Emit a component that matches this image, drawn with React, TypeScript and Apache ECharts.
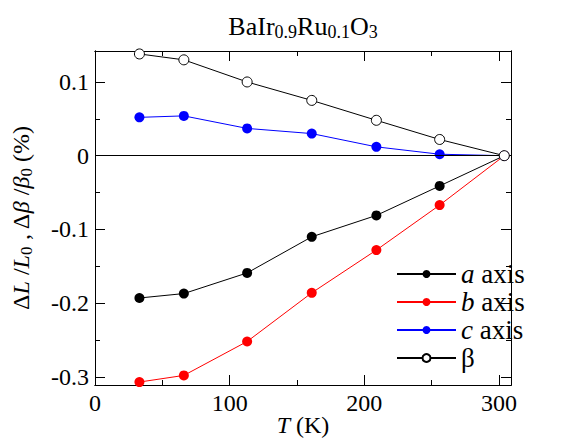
import React, { useEffect, useRef } from "react";
import * as echarts from "echarts";

const temperatures = [33, 66, 113, 161, 209, 256, 304];
const aAxis = [-0.193, -0.187, -0.159, -0.11, -0.081, -0.041, 0];
const bAxis = [-0.307, -0.298, -0.252, -0.186, -0.128, -0.067, 0];
const cAxis = [0.052, 0.054, 0.037, 0.03, 0.012, 0.002, 0];
const betaValues = [0.138, 0.13, 0.1, 0.075, 0.048, 0.022, 0];

const xMajorTicks = [0, 100, 200, 300];
const xMinorTicks = [0, 50, 100, 150, 200, 250, 300];
const yMajorTicks = [-0.3, -0.2, -0.1, 0, 0.1];
const yMinorTicks = [-0.3, -0.25, -0.2, -0.15, -0.1, -0.05, 0, 0.05, 0.1];

const seriesNames = ["a axis", "b axis", "c axis", "β"];
const legendLabels: Record<string, string> = {
  "a axis": "{i|a} axis",
  "b axis": "{i|b} axis",
  "c axis": "{i|c} axis",
  "β": "β",
};

const FONT = "Liberation Serif";

export default function App() {
  const ref = useRef<HTMLDivElement>(null);
  useEffect(() => {
    if (!ref.current) return;
    const chart = echarts.init(ref.current, undefined, { renderer: "svg" });
    const xMin = 0, xMax = 309, yMin = -0.311, yMax = 0.142;
    const baseX = (extra: any) => ({
      type: "value",
      min: xMin,
      max: xMax,
      splitLine: { show: false },
      axisLine: { show: true, onZero: false, lineStyle: { color: "#000", width: 1 } },
      ...extra,
    });
    const baseY = (extra: any) => ({
      type: "value",
      min: yMin,
      max: yMax,
      splitLine: { show: false },
      axisLine: { show: true, onZero: false, lineStyle: { color: "#000", width: 1 } },
      ...extra,
    });
    const tick = (vals: number[], len: number) => ({
      show: true,
      inside: true,
      length: len,
      customValues: vals,
      lineStyle: { color: "#000", width: 1 },
    });
    const mk = (name: string, data: number[], color: string, hollow = false) => ({
      name,
      type: "line",
      data: temperatures.map((t, i) => [t, data[i]]),
      symbol: "circle",
      symbolSize: 10,
      lineStyle: { color, width: 1 },
      itemStyle: hollow
        ? { color: "#fff", borderColor: "#000", borderWidth: 1 }
        : { color, borderColor: color, borderWidth: 0 },
      emphasis: { disabled: true },
      z: hollow ? 5 : 3,
    });
    const seriesA: any = mk(seriesNames[0], aAxis, "#000");
    seriesA.markLine = {
      silent: true,
      symbol: ["none", "none"],
      label: { show: false },
      lineStyle: { color: "#000", width: 1, type: "solid" },
      data: [{ yAxis: 0 }],
    };
    chart.setOption({
      animation: false,
      textStyle: { fontFamily: FONT },
      title: {
        text: "BaIr{s|0.9}Ru{s|0.1}O{s|3}",
        left: 303,
        top: 11,
        textAlign: "center",
        padding: 0,
        textStyle: {
          fontFamily: FONT,
          fontSize: 26,
          fontWeight: "normal",
          color: "#000",
          rich: {
            s: { fontFamily: FONT, fontSize: 18, color: "#000", padding: [12, 0, 0, 0] },
          },
        },
      },
      grid: {
        left: 95,
        top: 51,
        width: 416,
        height: 334,
        containLabel: false,
        outerBoundsMode: "none",
      },
      legend: {
        orient: "vertical",
        left: 396,
        top: 260,
        padding: 0,
        itemWidth: 59,
        itemHeight: 10,
        itemGap: 0,
        selectedMode: false,
        data: seriesNames,
        formatter: (n: string) => legendLabels[n],
        textStyle: {
          fontFamily: FONT,
          fontSize: 27,
          lineHeight: 28,
          color: "#000",
          rich: {
            i: { fontFamily: FONT, fontSize: 27, lineHeight: 28, fontStyle: "italic", color: "#000" },
          },
        },
      },
      xAxis: [
        baseX({
          position: "bottom",
          axisTick: tick(xMajorTicks, 10),
          axisLabel: {
            show: true,
            customValues: xMajorTicks,
            margin: 6,
            color: "#000",
            fontFamily: FONT,
            fontSize: 24,
          },
          name: "{i|T} (K)",
          nameLocation: "middle",
          nameGap: 28,
          nameMoveOverlap: false,
          nameTextStyle: {
            fontFamily: FONT,
            fontSize: 24,
            color: "#000",
            rich: { i: { fontFamily: FONT, fontSize: 24, fontStyle: "italic", color: "#000" } },
          },
        }),
        baseX({ position: "bottom", axisTick: tick(xMinorTicks, 5), axisLabel: { show: false } }),
        baseX({ position: "top", axisTick: tick(xMajorTicks, 10), axisLabel: { show: false } }),
        baseX({ position: "top", axisTick: tick(xMinorTicks, 5), axisLabel: { show: false } }),
      ],
      yAxis: [
        baseY({
          position: "left",
          axisTick: tick(yMajorTicks, 10),
          axisLabel: {
            show: true,
            customValues: yMajorTicks,
            margin: 6,
            color: "#000",
            fontFamily: FONT,
            fontSize: 24,
            formatter: (v: number) => (Math.abs(v) < 1e-9 ? "0" : v.toFixed(1)),
          },
          name: "Δ{i|L} /{i|L}{s|0} , Δ{i|β} /{i|β}{s|0} (%)",
          nameLocation: "middle",
          nameRotate: 90,
          nameGap: 60,
          nameMoveOverlap: false,
          nameTextStyle: {
            fontFamily: FONT,
            fontSize: 24,
            color: "#000",
            rich: {
              i: { fontFamily: FONT, fontSize: 24, fontStyle: "italic", color: "#000" },
              s: { fontFamily: FONT, fontSize: 17, color: "#000", padding: [12, 0, 0, 0] },
            },
          },
        }),
        baseY({ position: "left", axisTick: tick(yMinorTicks, 5), axisLabel: { show: false } }),
        baseY({ position: "right", axisTick: tick(yMajorTicks, 10), axisLabel: { show: false } }),
        baseY({ position: "right", axisTick: tick(yMinorTicks, 5), axisLabel: { show: false } }),
      ],
      series: [
        seriesA,
        mk(seriesNames[1], bAxis, "#ff0000"),
        mk(seriesNames[2], cAxis, "#0000ff"),
        mk(seriesNames[3], betaValues, "#000", true),
      ],
    });
    return () => chart.dispose();
  }, []);
  return (
    <div
      ref={ref}
      style={{ position: "absolute", left: 0, top: 0, width: 565, height: 439, background: "#fff" }}
    />
  );
}
